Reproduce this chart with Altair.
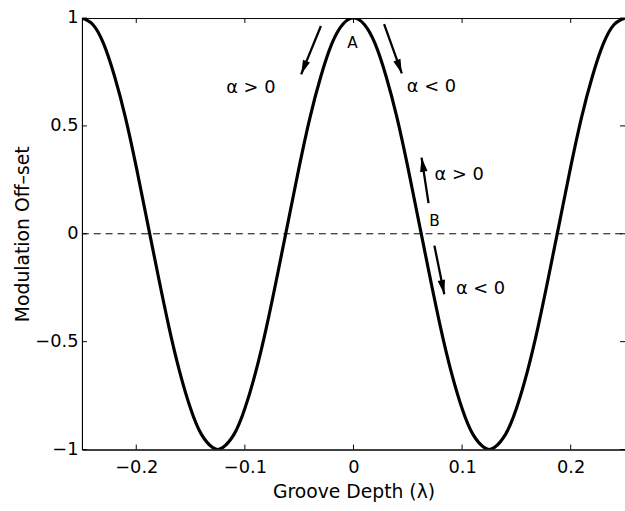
import altair as alt
import pandas as pd

# Curve
depth = [-0.25, -0.24, -0.23, -0.22, -0.21, -0.20, -0.19, -0.18, -0.17, -0.16,
         -0.15, -0.14, -0.13, -0.125, -0.12, -0.11, -0.10, -0.09, -0.08, -0.07,
         -0.06, -0.05, -0.04, -0.03, -0.02, -0.01, 0.0, 0.01, 0.02, 0.03,
         0.04, 0.05, 0.06, 0.07, 0.08, 0.09, 0.10, 0.11, 0.12, 0.125,
         0.13, 0.14, 0.15, 0.16, 0.17, 0.18, 0.19, 0.20, 0.21, 0.22,
         0.23, 0.24, 0.25]
offset = [1.0, 0.97, 0.88, 0.73, 0.54, 0.31, 0.06, -0.19, -0.43, -0.64,
          -0.81, -0.93, -0.99, -1.0, -0.99, -0.93, -0.81, -0.64, -0.43, -0.19,
          0.06, 0.31, 0.54, 0.73, 0.88, 0.97, 1.0, 0.97, 0.88, 0.73,
          0.54, 0.31, 0.06, -0.19, -0.43, -0.64, -0.81, -0.93, -0.99, -1.0,
          -0.99, -0.93, -0.81, -0.64, -0.43, -0.19, 0.06, 0.31, 0.54, 0.73,
          0.88, 0.97, 1.0]

x_ticks = [-0.2, -0.1, 0.0, 0.1, 0.2]
y_ticks = [-1.0, -0.5, 0.0, 0.5, 1.0]

# Annotations
label_text = ["α > 0", "α < 0", "α > 0", "α < 0"]
label_x = [-0.0945, 0.0718, 0.0973, 0.117]
label_y = [0.674, 0.679, 0.271, -0.257]

point_text = ["A", "B"]
point_x = [-0.001, 0.0745]
point_y = [0.885, 0.060]

arrow_x0 = [-0.030, 0.0282, 0.0691, 0.0745]
arrow_y0 = [0.963, 0.972, 0.142, -0.055]
arrow_x1 = [-0.0482, 0.0445, 0.0627, 0.0836]
arrow_y1 = [0.739, 0.743, 0.353, -0.280]
arrow_angle = [202, 160, 351, 168]

W, H = 550, 437
FONT = "DejaVu Sans"

xs = alt.Scale(domain=[-0.25, 0.25], nice=False, zero=False)
ys = alt.Scale(domain=[-1, 1], nice=False, zero=False)

curve_df = pd.DataFrame({"x": depth, "y": offset})
zero_df = pd.DataFrame({"x": [-0.25, 0.25], "y": [0.0, 0.0]})
xt_df = pd.DataFrame({"x": x_ticks})
yt_df = pd.DataFrame({"y": y_ticks})
lab_df = pd.DataFrame({"t": label_text, "x": label_x, "y": label_y})
pt_df = pd.DataFrame({"t": point_text, "x": point_x, "y": point_y})
arr_df = pd.DataFrame({"x0": arrow_x0, "y0": arrow_y0, "x1": arrow_x1,
                       "y1": arrow_y1, "a": arrow_angle})

curve = alt.Chart(curve_df).mark_line(
    color="black", strokeWidth=3.2, interpolate="natural", clip=True
).encode(
    x=alt.X("x:Q", scale=xs, title="Groove Depth (λ)",
            axis=alt.Axis(values=x_ticks, format="~g", grid=False, tickSize=0,
                          labelPadding=9, titlePadding=7)),
    y=alt.Y("y:Q", scale=ys, title="Modulation Off–set",
            axis=alt.Axis(values=y_ticks, format="~g", grid=False, tickSize=0,
                          labelPadding=4, titlePadding=2)),
)

zero = alt.Chart(zero_df).mark_line(
    color="black", strokeWidth=1, strokeDash=[7, 5]
).encode(x=alt.X("x:Q", scale=xs), y=alt.Y("y:Q", scale=ys))

xt_bottom = alt.Chart(xt_df).mark_rule(color="black", strokeWidth=1).encode(
    x=alt.X("x:Q", scale=xs), y=alt.value(H), y2=alt.value(H - 5))
xt_top = alt.Chart(xt_df).mark_rule(color="black", strokeWidth=1).encode(
    x=alt.X("x:Q", scale=xs), y=alt.value(0), y2=alt.value(5))
yt_left = alt.Chart(yt_df).mark_rule(color="black", strokeWidth=1).encode(
    y=alt.Y("y:Q", scale=ys), x=alt.value(0), x2=alt.value(5))
yt_right = alt.Chart(yt_df).mark_rule(color="black", strokeWidth=1).encode(
    y=alt.Y("y:Q", scale=ys), x=alt.value(W), x2=alt.value(W - 5))

labels = alt.Chart(lab_df).mark_text(
    font=FONT, fontSize=18, color="black", align="center", baseline="middle"
).encode(x=alt.X("x:Q", scale=xs), y=alt.Y("y:Q", scale=ys), text="t:N")

points = alt.Chart(pt_df).mark_text(
    font=FONT, fontSize=15.5, color="black", align="center", baseline="middle"
).encode(x=alt.X("x:Q", scale=xs), y=alt.Y("y:Q", scale=ys), text="t:N")

shafts = alt.Chart(arr_df).mark_rule(color="black", strokeWidth=2.3).encode(
    x=alt.X("x0:Q", scale=xs), y=alt.Y("y0:Q", scale=ys),
    x2="x1:Q", y2="y1:Q")

heads = alt.Chart(arr_df).mark_point(
    shape="M0,0L-0.5,1.9L0.5,1.9Z", size=230, filled=True, color="black",
    opacity=1
).encode(x=alt.X("x1:Q", scale=xs), y=alt.Y("y1:Q", scale=ys),
         angle=alt.Angle("a:Q", scale=None))

chart = alt.layer(
    zero, curve, xt_bottom, xt_top, yt_left, yt_right,
    shafts, heads, labels, points
).properties(
    width=W, height=H,
    autosize=alt.AutoSizeParams(type="none"),
    padding={"left": 83, "top": 15, "right": 0, "bottom": 59},
    background="white",
).configure_view(
    stroke="black", strokeWidth=1
).configure_axis(
    domainColor="black", domainWidth=1, labelColor="black", titleColor="black",
    labelFont=FONT, titleFont=FONT, labelFontSize=18, titleFontSize=19,
    titleFontWeight="normal"
)

chart.save("out.html", embed_options={"renderer": "svg", "actions": False})
